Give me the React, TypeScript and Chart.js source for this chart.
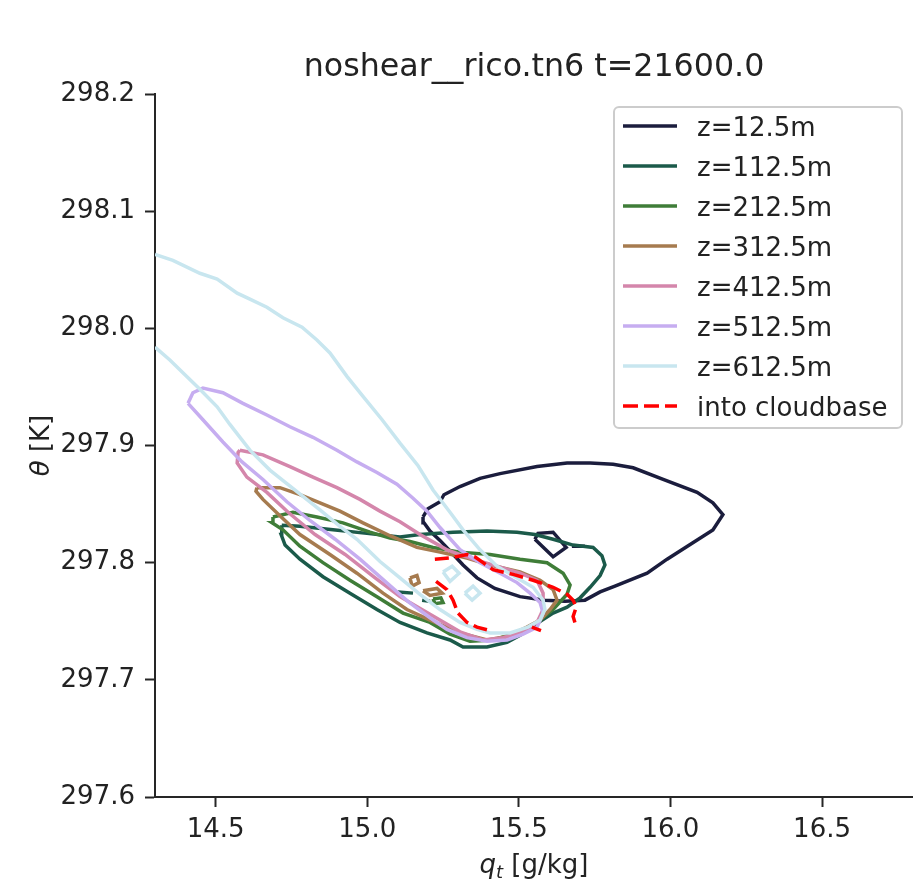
import React, { useEffect, useRef } from 'react';
import { Chart, registerables } from 'chart.js';

Chart.register(...registerables);

const TITLE = 'noshear__rico.tn6 t=21600.0';
const LEVEL_LABELS = ['z=12.5m', 'z=112.5m', 'z=212.5m', 'z=312.5m', 'z=412.5m', 'z=512.5m', 'z=612.5m'];
const CLOUDBASE_LABEL = 'into cloudbase';
const LEVEL_COLORS = ['#1b1d3d', '#1b5a4a', '#3f7d38', '#a67b4f', '#d486ab', '#c6adf0', '#c8e6ef'];
const CLOUDBASE_COLOR = '#ff0000';
const X_TICKS = [14.5, 15.0, 15.5, 16.0, 16.5];
const Y_TICKS = [297.6, 297.7, 297.8, 297.9, 298.0, 298.1, 298.2];
const X_MIN = 14.3;
const X_MAX = 16.8;
const Y_MIN = 297.6;
const Y_MAX = 298.2;

const N = null;

// z = 12.5 m
const qt12 = [15.184, 15.200, 15.240, 15.253, 15.306, 15.372, 15.438, 15.560, 15.659, 15.735, 15.811, 15.877, 15.976, 16.088, 16.140, 16.173, 16.140, 16.074, 15.989, 15.923, 15.817, 15.768, 15.718, 15.652, 15.586, 15.504, 15.421, 15.362, 15.316, 15.273, 15.240, 15.207, 15.187, 15.184,
  N, 15.553, 15.563, 15.613, 15.656, 15.613, 15.553,
  N, 15.675, 15.718];
const th12 = [297.839, 297.846, 297.852, 297.858, 297.865, 297.872, 297.876, 297.882, 297.885, 297.885, 297.884, 297.881, 297.871, 297.860, 297.851, 297.841, 297.828, 297.817, 297.803, 297.791, 297.780, 297.775, 297.768, 297.767, 297.768, 297.771, 297.778, 297.787, 297.798, 297.810, 297.819, 297.827, 297.834, 297.839,
  N, 297.820, 297.825, 297.826, 297.813, 297.805, 297.820,
  N, 297.814, 297.814];

// z = 112.5 m
const qt112 = [14.718, 14.778, 14.887, 14.999, 15.108, 15.174, 15.283, 15.395, 15.494, 15.553, 15.613, 15.679, 15.745, 15.774, 15.784, 15.768, 15.735, 15.702, 15.659, 15.613, 15.553, 15.504, 15.461, 15.395, 15.316, 15.273, 15.197, 15.108, 15.032, 14.943, 14.854, 14.778, 14.729, 14.716, 14.718,
  N, 15.101, 15.151,
  N, 15.181, 15.207];
const th112 = [297.832, 297.831, 297.828, 297.825, 297.822, 297.824, 297.826, 297.827, 297.826, 297.824, 297.820, 297.815, 297.813, 297.806, 297.798, 297.789, 297.779, 297.770, 297.762, 297.757, 297.747, 297.738, 297.732, 297.728, 297.728, 297.734, 297.740, 297.749, 297.760, 297.774, 297.788, 297.803, 297.815, 297.824, 297.832,
  N, 297.775, 297.774,
  N, 297.768, 297.767];

// z = 212.5 m
const qt212 = [14.689, 14.755, 14.834, 14.920, 15.009, 15.075, 15.141, 15.217, 15.306, 15.405, 15.504, 15.593, 15.646, 15.669, 15.659, 15.613, 15.560, 15.494, 15.415, 15.339, 15.273, 15.207, 15.118, 15.032, 14.943, 14.854, 14.778, 14.722, 14.686, 14.689,
  N, 15.217, 15.243, 15.250, 15.223, 15.217];
const th212 = [297.839, 297.843, 297.839, 297.834, 297.826, 297.821, 297.818, 297.813, 297.809, 297.807, 297.803, 297.800, 297.791, 297.781, 297.773, 297.760, 297.749, 297.740, 297.734, 297.733, 297.739, 297.749, 297.757, 297.771, 297.785, 297.800, 297.814, 297.828, 297.834, 297.839,
  N, 297.769, 297.770, 297.766, 297.765, 297.769];

// z = 312.5 m
const qt312 = [14.636, 14.712, 14.778, 14.844, 14.910, 14.986, 15.075, 15.164, 15.240, 15.329, 15.405, 15.504, 15.570, 15.613, 15.626, 15.603, 15.570, 15.527, 15.461, 15.395, 15.306, 15.207, 15.131, 15.052, 14.966, 14.877, 14.778, 14.712, 14.656, 14.633, 14.636,
  N, 15.141, 15.164, 15.171, 15.148, 15.141,
  N, 15.184, 15.230, 15.247, 15.207, 15.184];
const th312 = [297.864, 297.864, 297.858, 297.851, 297.844, 297.834, 297.823, 297.813, 297.809, 297.804, 297.798, 297.792, 297.785, 297.777, 297.768, 297.760, 297.751, 297.745, 297.737, 297.734, 297.740, 297.751, 297.760, 297.774, 297.791, 297.807, 297.824, 297.840, 297.854, 297.861, 297.864,
  N, 297.787, 297.789, 297.783, 297.780, 297.787,
  N, 297.776, 297.778, 297.774, 297.772, 297.776];

// z = 412.5 m
const qt412 = [14.580, 14.656, 14.745, 14.821, 14.900, 14.976, 15.042, 15.108, 15.174, 15.263, 15.349, 15.428, 15.504, 15.560, 15.580, 15.580, 15.560, 15.514, 15.448, 15.382, 15.306, 15.207, 15.108, 15.026, 14.927, 14.828, 14.739, 14.669, 14.603, 14.571, 14.574, 14.580];
const th412 = [297.896, 297.892, 297.882, 297.873, 297.864, 297.854, 297.844, 297.835, 297.824, 297.811, 297.803, 297.797, 297.791, 297.785, 297.774, 297.760, 297.749, 297.741, 297.736, 297.734, 297.741, 297.756, 297.771, 297.787, 297.807, 297.824, 297.843, 297.860, 297.873, 297.885, 297.894, 297.896];

// z = 512.5 m
const qt512 = [14.409, 14.425, 14.458, 14.524, 14.590, 14.669, 14.745, 14.821, 14.900, 14.966, 15.032, 15.098, 15.151, 15.197, 15.240, 15.306, 15.372, 15.438, 15.494, 15.537, 15.570, 15.580, 15.560, 15.514, 15.461, 15.395, 15.329, 15.263, 15.207, 15.134, 15.059, 14.976, 14.894, 14.811, 14.735, 14.656, 14.587, 14.524, 14.458, 14.409];
const th512 = [297.936, 297.945, 297.949, 297.945, 297.936, 297.926, 297.916, 297.907, 297.896, 297.886, 297.877, 297.867, 297.855, 297.844, 297.830, 297.811, 297.800, 297.791, 297.783, 297.774, 297.766, 297.757, 297.745, 297.739, 297.734, 297.733, 297.736, 297.743, 297.753, 297.767, 297.784, 297.803, 297.820, 297.836, 297.852, 297.871, 297.886, 297.903, 297.922, 297.936];

// z = 612.5 m
const qt612 = [14.300, 14.359, 14.448, 14.505, 14.571, 14.613, 14.669, 14.722, 14.785, 14.834, 14.877, 14.933, 14.986, 15.049, 15.108, 15.167, 15.217, 15.273, 15.316, 15.372, 15.428, 15.494, 15.547, 15.580, 15.586, 15.570, 15.530, 15.471, 15.405, 15.362, 15.306, 15.240, 15.174, 15.108, 15.042, 14.966, 14.910, 14.844, 14.762, 14.679, 14.613, 14.547, 14.505, 14.448, 14.392, 14.349, 14.300,
  N, 15.250, 15.280, 15.303, 15.273, 15.250,
  N, 15.322, 15.349, 15.372, 15.346, 15.322];
const th612 = [298.063, 298.058, 298.047, 298.042, 298.030, 298.025, 298.018, 298.009, 298.001, 297.990, 297.979, 297.959, 297.942, 297.922, 297.902, 297.883, 297.862, 297.843, 297.828, 297.811, 297.797, 297.787, 297.779, 297.768, 297.760, 297.751, 297.745, 297.740, 297.740, 297.743, 297.749, 297.760, 297.773, 297.787, 297.801, 297.820, 297.831, 297.845, 297.862, 297.879, 297.896, 297.918, 297.933, 297.948, 297.962, 297.973, 297.984,
  N, 297.792, 297.797, 297.791, 297.784, 297.792,
  N, 297.774, 297.780, 297.774, 297.768, 297.774];

// into cloudbase
const qtCloud = [15.223, 15.273, 15.329, 15.355, 15.382, 15.415, 15.481, 15.547, 15.613, 15.659, 15.679, 15.689, 15.679, 15.685,
  N, 15.227, 15.263, 15.283, 15.299, 15.329, 15.362, 15.405,
  N, 15.543, 15.573];
const thCloud = [297.803, 297.804, 297.807, 297.805, 297.800, 297.794, 297.790, 297.785, 297.779, 297.773, 297.768, 297.762, 297.754, 297.749,
  N, 297.784, 297.777, 297.768, 297.757, 297.749, 297.745, 297.742,
  N, 297.745, 297.742];

const LEVEL_QT = [qt12, qt112, qt212, qt312, qt412, qt512, qt612];
const LEVEL_TH = [th12, th112, th212, th312, th412, th512, th612];

const FONT = '"DejaVu Sans", "Liberation Sans", sans-serif';
const TEXT_COLOR = '#222222';
const AXIS_COLOR = '#262626';
const LINE_W = 3.5;
const DASH = [14, 6];

function toPoints(qs: (number | null)[], ths: (number | null)[]) {
  return qs.map((q, i) => (q === null ? { x: null, y: null } : { x: q, y: ths[i] }));
}

const decorPlugin = {
  id: 'decor',
  afterDraw(chart: any) {
    const ctx = chart.ctx as CanvasRenderingContext2D;
    const ca = chart.chartArea;
    const cx = (ca.left + ca.right) / 2;
    ctx.save();
    ctx.fillStyle = TEXT_COLOR;

    // title
    ctx.font = `31.7px ${FONT}`;
    ctx.textAlign = 'center';
    ctx.textBaseline = 'alphabetic';
    ctx.fillText(TITLE, cx, ca.top - 18);

    // x-axis label: q_t [g/kg]
    const big = `26px ${FONT}`;
    const bigIt = `italic 26px ${FONT}`;
    const subIt = `italic 18px ${FONT}`;
    ctx.textAlign = 'left';
    ctx.font = bigIt; const wq = ctx.measureText('q').width;
    ctx.font = subIt; const wt = ctx.measureText('t').width;
    ctx.font = big; const wr = ctx.measureText(' [g/kg]').width;
    const total = wq + wt + wr;
    let x = cx - total / 2;
    const by = 873;
    ctx.font = bigIt; ctx.fillText('q', x, by); x += wq;
    ctx.font = subIt; ctx.fillText('t', x, by + 5); x += wt;
    ctx.font = big; ctx.fillText(' [g/kg]', x, by);

    // y-axis label: θ [K]
    ctx.save();
    ctx.translate(49, (ca.top + ca.bottom) / 2);
    ctx.rotate(-Math.PI / 2);
    ctx.font = bigIt; const wth = ctx.measureText('θ').width;
    ctx.font = big; const wk = ctx.measureText(' [K]').width;
    let yx = -(wth + wk) / 2;
    ctx.font = bigIt; ctx.fillText('θ', yx, 0); yx += wth;
    ctx.font = big; ctx.fillText(' [K]', yx, 0);
    ctx.restore();

    // legend
    const lx1 = ca.right - 11;
    const lx0 = lx1 - 288;
    const ly0 = ca.top + 13;
    const ly1 = ly0 + 321;
    ctx.beginPath();
    if ((ctx as any).roundRect) (ctx as any).roundRect(lx0, ly0, lx1 - lx0, ly1 - ly0, 5);
    else ctx.rect(lx0, ly0, lx1 - lx0, ly1 - ly0);
    ctx.fillStyle = 'rgba(255,255,255,0.8)';
    ctx.fill();
    ctx.strokeStyle = '#cccccc';
    ctx.lineWidth = 2;
    ctx.stroke();

    const entries = LEVEL_LABELS.map((l, i) => ({ label: l, color: LEVEL_COLORS[i], dash: [] as number[] }));
    entries.push({ label: CLOUDBASE_LABEL, color: CLOUDBASE_COLOR, dash: [15, 6] });
    entries.forEach((e, k) => {
      const y = ly0 + 19 + 40 * k;
      ctx.beginPath();
      ctx.setLineDash(e.dash);
      ctx.strokeStyle = e.color;
      ctx.lineWidth = LINE_W;
      ctx.moveTo(lx0 + 9, y);
      ctx.lineTo(lx0 + 63, y);
      ctx.stroke();
      ctx.setLineDash([]);
      ctx.fillStyle = TEXT_COLOR;
      ctx.font = big;
      ctx.textAlign = 'left';
      ctx.fillText(e.label, lx0 + 83, y + 9.5);
    });
    ctx.restore();
  },
};

export default function App() {
  const ref = useRef<HTMLCanvasElement | null>(null);

  useEffect(() => {
    if (!ref.current) return;
    const datasets: any[] = LEVEL_LABELS.map((label, i) => ({
      label,
      data: toPoints(LEVEL_QT[i], LEVEL_TH[i]),
      borderColor: LEVEL_COLORS[i],
      backgroundColor: LEVEL_COLORS[i],
      borderWidth: LINE_W,
      showLine: true,
      pointRadius: 0,
      pointHoverRadius: 0,
      tension: 0,
      fill: false,
      spanGaps: false,
      order: LEVEL_LABELS.length - i,
    }));
    datasets.push({
      label: CLOUDBASE_LABEL,
      data: toPoints(qtCloud, thCloud),
      borderColor: CLOUDBASE_COLOR,
      backgroundColor: CLOUDBASE_COLOR,
      borderWidth: LINE_W,
      borderDash: DASH,
      showLine: true,
      pointRadius: 0,
      pointHoverRadius: 0,
      tension: 0,
      fill: false,
      spanGaps: false,
      order: 0,
    });

    const chart = new Chart(ref.current, {
      type: 'scatter',
      data: { datasets },
      plugins: [decorPlugin],
      options: {
        animation: false,
        responsive: false,
        devicePixelRatio: 1,
        events: [],
        layout: { padding: { top: 94, left: 0, right: 0, bottom: 0 } },
        plugins: {
          legend: { display: false },
          tooltip: { enabled: false },
          title: { display: false },
        },
        scales: {
          x: {
            type: 'linear',
            min: X_MIN,
            max: X_MAX,
            afterBuildTicks: (scale: any) => { scale.ticks = X_TICKS.map((v) => ({ value: v })); },
            afterFit: (scale: any) => { scale.height = 87; },
            ticks: {
              autoSkip: false,
              maxRotation: 0,
              padding: 8,
              color: TEXT_COLOR,
              font: { family: FONT, size: 26 },
              callback: (v: any) => Number(v).toFixed(1),
            },
            grid: { drawOnChartArea: false, drawTicks: true, tickLength: 10, tickWidth: 2, tickColor: AXIS_COLOR, color: AXIS_COLOR },
            border: { display: true, color: AXIS_COLOR, width: 2 },
          },
          y: {
            type: 'linear',
            min: Y_MIN,
            max: Y_MAX,
            afterBuildTicks: (scale: any) => { scale.ticks = Y_TICKS.map((v) => ({ value: v })); },
            afterFit: (scale: any) => { scale.width = 155; },
            ticks: {
              autoSkip: false,
              padding: 10,
              color: TEXT_COLOR,
              font: { family: FONT, size: 26 },
              callback: (v: any) => Number(v).toFixed(1),
            },
            grid: { drawOnChartArea: false, drawTicks: true, tickLength: 10, tickWidth: 2, tickColor: AXIS_COLOR, color: AXIS_COLOR },
            border: { display: true, color: AXIS_COLOR, width: 2 },
          },
        },
      } as any,
    });
    return () => chart.destroy();
  }, []);

  return (
    <div style={{ position: 'fixed', left: 0, top: 0, width: 913, height: 884, background: '#ffffff' }}>
      <canvas ref={ref} width={913} height={884} style={{ display: 'block', width: 913, height: 884 }} />
    </div>
  );
}
